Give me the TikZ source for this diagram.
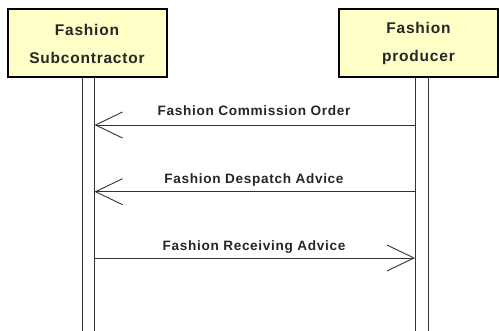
\documentclass[tikz,border=0pt]{standalone}
\usepackage{fontspec}
\setmainfont{Liberation Sans}[LetterSpace=5]
\usetikzlibrary{arrows.meta}
\definecolor{boxfill}{HTML}{FFFFC8}
\definecolor{linegray}{HTML}{333333}
\begin{document}
\begin{tikzpicture}[x=1pt,y=1pt]
\tikzset{
  actor/.style={draw=black, line width=2pt, fill=boxfill, minimum width=159pt, minimum height=68pt,
    inner sep=0pt, align=center, font=\fontsize{15.5}{28}\selectfont\bfseries, text=black!85},
  life/.style={draw=linegray, line width=1pt},
  msg/.style={draw=linegray, line width=0.9pt, -{Straight Barb[length=27pt,width=26pt,line width=0.9pt]}},
  msglabel/.style={font=\fontsize{13.6}{15}\selectfont\bfseries, anchor=base, inner sep=0pt, text=black!85}
}
\useasboundingbox (0,0) rectangle (499,331);
% participants
\node[actor] (sub) at (87,287.5) {Fashion\\Subcontractor};
\node[actor] (prod) at (418.5,287.5) {Fashion\\producer};
% lifeline coordinates
\coordinate (subLt) at (82,253);   \coordinate (subLb) at (82,0);
\coordinate (subRt) at (94.5,253); \coordinate (subRb) at (94.5,0);
\coordinate (prodLt) at (415,253); \coordinate (prodLb) at (415,0);
\coordinate (prodRt) at (428,253); \coordinate (prodRb) at (428,0);
\draw[life] (subLt) -- (subLb);
\draw[life] (subRt) -- (subRb);
\draw[life] (prodLt) -- (prodLb);
\draw[life] (prodRt) -- (prodRb);
% message end points
\coordinate (m1s) at (415,206);   \coordinate (m1e) at (94.5,206);
\coordinate (m2s) at (415,139.3); \coordinate (m2e) at (94.5,139.3);
\coordinate (m3s) at (94.5,73);   \coordinate (m3e) at (415,73);
\draw[msg] (m1s) -- (m1e);
\draw[msg] (m2s) -- (m2e);
\draw[msg] (m3s) -- (m3e);
% labels
\node[msglabel] (l1) at (254,215.5) {Fashion Commission Order};
\node[msglabel] (l2) at (254,147.5) {Fashion Despatch Advice};
\node[msglabel] (l3) at (254,80.5) {Fashion Receiving Advice};
\end{tikzpicture}
\end{document}
